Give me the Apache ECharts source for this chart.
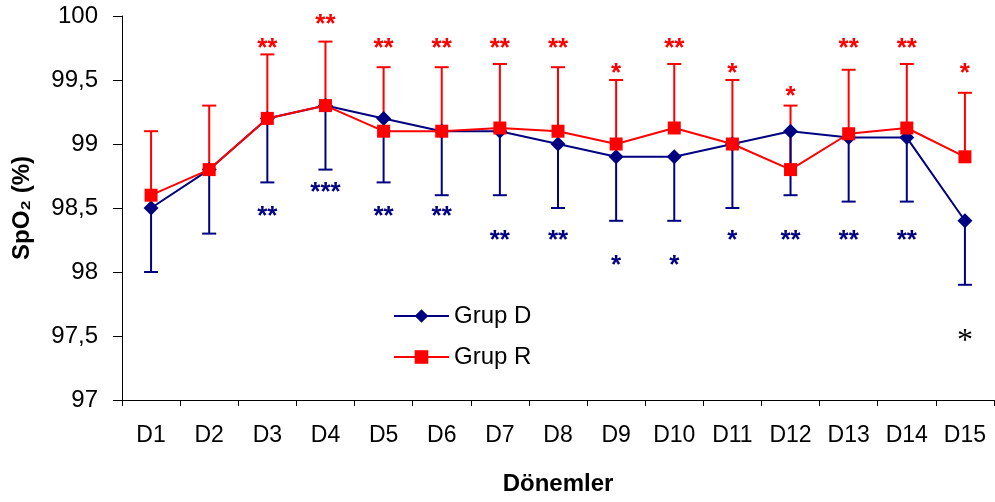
<!DOCTYPE html>
<html>
<head>
<meta charset="utf-8">
<script src="https://cdn.jsdelivr.net/npm/echarts@6/dist/echarts.min.js"></script>
<style>
  html, body { margin: 0; padding: 0; background: #fff; }
  #main { width: 995px; height: 502px; }
</style>
</head>
<body>
<div id="main"></div>
<script>
var periods = ["D1", "D2", "D3", "D4", "D5", "D6", "D7", "D8", "D9", "D10", "D11", "D12", "D13", "D14", "D15"];

// means
var grupD = [98.5, 98.8, 99.2, 99.3, 99.2, 99.1, 99.1, 99.0, 98.9, 98.9, 99.0, 99.1, 99.05, 99.05, 98.4];
var grupR = [98.6, 98.8, 99.2, 99.3, 99.1, 99.1, 99.125, 99.1, 99.0, 99.125, 99.0, 98.8, 99.08, 99.125, 98.9];

// error bar ends (D downward, R upward)
var grupDLow = [98.0, 98.3, 98.7, 98.8, 98.7, 98.6, 98.6, 98.5, 98.4, 98.4, 98.5, 98.6, 98.55, 98.55, 97.9];
var grupRHigh = [99.1, 99.3, 99.7, 99.8, 99.6, 99.6, 99.625, 99.6, 99.5, 99.625, 99.5, 99.3, 99.58, 99.625, 99.4];

// significance marks and where they sit
var starsR = ["", "", "**", "**", "**", "**", "**", "**", "*", "**", "*", "*", "**", "**", "*"];
var starsRY = [null, null, 99.78, 99.97, 99.78, 99.78, 99.78, 99.78, 99.59, 99.78, 99.59, 99.41, 99.78, 99.78, 99.59];
var starsD = ["", "", "**", "***", "**", "**", "**", "**", "*", "*", "*", "**", "**", "**", ""];
var starsDY = [null, null, 98.47, 98.66, 98.47, 98.47, 98.28, 98.28, 98.09, 98.09, 98.28, 98.28, 98.28, 98.28, null];
var starsX = ["", "", "", "", "", "", "", "", "", "", "", "", "", "", "*"];
var starsXY = [null, null, null, null, null, null, null, null, null, null, null, null, null, null, 97.5];

var navy = "#000080";
var red = "#ff0000";

function errData(lo, hi) {
  return periods.map(function (p, i) { return [i, lo[i], hi[i]]; });
}

function errRender(color, capAtLow) {
  return function (params, api) {
    var a = api.coord([api.value(0), api.value(1)]);
    var b = api.coord([api.value(0), api.value(2)]);
    var capY = capAtLow ? a[1] : b[1];
    var hw = 7;
    var st = { stroke: color, lineWidth: 2 };
    return {
      type: "group",
      children: [
        { type: "line", shape: { x1: a[0], y1: a[1], x2: b[0], y2: b[1] }, style: st },
        { type: "line", shape: { x1: a[0] - hw, y1: capY, x2: a[0] + hw, y2: capY }, style: st }
      ]
    };
  };
}

function starSeries(txt, ys, color, font, dy) {
  var data = [];
  txt.forEach(function (t, i) {
    if (t && ys[i] != null) data.push({ value: [i, ys[i]], txt: t });
  });
  return {
    type: "custom",
    silent: true,
    z: 5,
    data: data.map(function (d) { return d.value; }),
    renderItem: function (params, api) {
      var p = api.coord([api.value(0), api.value(1)]);
      return {
        type: "text",
        x: p[0],
        y: p[1] + dy,
        style: { text: data[params.dataIndex].txt, fill: color, font: font, align: "center", verticalAlign: "middle" }
      };
    }
  };
}

var chartDom = document.getElementById("main");
var myChart = echarts.init(chartDom);
var option;

option = {
  animation: false,
  backgroundColor: "#fff",
  textStyle: { fontFamily: "Liberation Sans, Arial, sans-serif", color: "#000" },
  grid: { left: 122, right: 1, top: 16, bottom: 102 },
  legend: {
    data: ["Grup D", "Grup R"],
    orient: "vertical",
    left: 388,
    top: 299,
    itemWidth: 55,
    itemHeight: 17,
    itemGap: 17,
    textStyle: { fontSize: 24, color: "#000", fontFamily: "Liberation Sans, Arial, sans-serif" }
  },
  xAxis: {
    type: "category",
    data: periods,
    boundaryGap: true,
    axisLine: { lineStyle: { color: "#000", width: 1 } },
    axisTick: { show: true, length: 6, lineStyle: { color: "#000" } },
    axisLabel: { color: "#000", fontSize: 23, margin: 24 },
    name: "Dönemler",
    nameLocation: "middle",
    nameGap: 72,
    nameTextStyle: { fontSize: 24, fontWeight: "bold", color: "#000" }
  },
  yAxis: {
    type: "value",
    min: 97,
    max: 100,
    interval: 0.5,
    axisLine: { show: true, lineStyle: { color: "#000", width: 1 } },
    axisTick: { show: true, length: 9, lineStyle: { color: "#000" } },
    splitLine: { show: false },
    axisLabel: {
      color: "#000",
      fontSize: 24,
      margin: 24,
      formatter: function (v) { return String(v).replace(".", ","); }
    },
    name: "SpO₂ (%)",
    nameLocation: "middle",
    nameGap: 88,
    nameTextStyle: { fontSize: 24, fontWeight: "bold", color: "#000" }
  },
  series: [
    {
      type: "custom",
      name: "errR",
      silent: true,
      z: 1,
      data: errData(grupR, grupRHigh),
      renderItem: errRender(red, false)
    },
    {
      type: "custom",
      name: "errD",
      silent: true,
      z: 1,
      data: errData(grupDLow, grupD),
      renderItem: errRender(navy, true)
    },
    {
      name: "Grup D",
      type: "line",
      z: 3,
      data: grupD,
      symbol: "diamond",
      symbolSize: 15,
      itemStyle: { color: navy },
      lineStyle: { color: navy, width: 2 }
    },
    {
      name: "Grup R",
      type: "line",
      z: 4,
      data: grupR,
      symbol: "rect",
      symbolSize: 13,
      itemStyle: { color: red },
      lineStyle: { color: red, width: 2 }
    },
    starSeries(starsR, starsRY, red, "bold 26px Liberation Sans", 5),
    starSeries(starsD, starsDY, navy, "bold 26px Liberation Sans", 5),
    starSeries(starsX, starsXY, "#000", "32px Liberation Serif", 6)
  ]
};

option && myChart.setOption(option);
</script>
</body>
</html>
